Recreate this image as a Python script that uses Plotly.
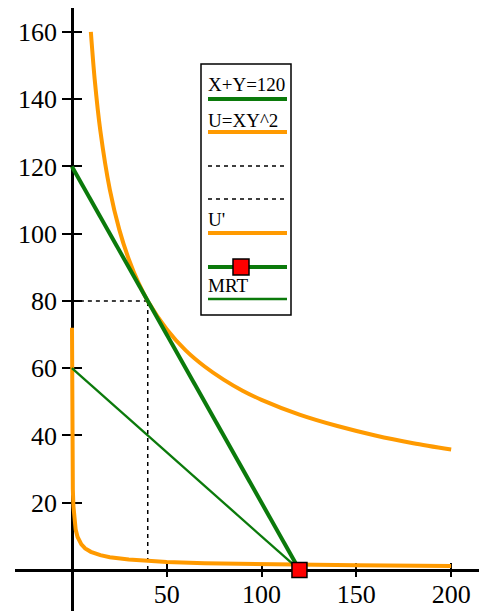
import plotly.graph_objects as go

# ---------------- data ----------------
budget_x = [0, 120]
budget_y = [120, 0]

mrt_x = [0, 120]
mrt_y = [60, 0]

u_x = [10, 12, 15, 20, 25, 30, 35, 40, 50, 60, 70, 80, 90, 100, 120, 140, 160, 180, 200]
u_y = [160, 146, 130.6, 113.1, 101.2, 92.4, 85.5, 80, 71.6, 65.3, 60.5, 56.6, 53.3, 50.6, 46.2, 42.8, 40, 37.7, 35.8]

u2_x = [0.056, 0.1, 0.2, 0.3, 0.5, 0.8, 1, 1.5, 2, 3, 4, 5, 7, 10, 15, 20, 30, 40, 50, 70, 100, 150, 200]
u2_y = [72, 53.9, 38.1, 31.1, 24, 19, 17, 13.9, 12, 9.8, 8.5, 7.6, 6.4, 5.4, 4.4, 3.8, 3.1, 2.7, 2.4, 2.0, 1.7, 1.4, 1.2]

vdash_x = [40, 40]
vdash_y = [0, 80]
hdash_x = [0, 40]
hdash_y = [80, 80]

point_x = [120]
point_y = [0]

x_ticks = [50, 100, 150, 200]
y_ticks = [20, 40, 60, 80, 100, 120, 140, 160]

legend_labels = ["X+Y=120", "U=XY^2", "U'", "MRT"]

# ---------------- style ----------------
OFF = 8                     # browser default body margin
W, H = 487 - OFF, 611 - OFF
ORANGE = "#FF9A00"
GREEN = "#0B7A0B"
FONT = "Liberation Serif"
XR = [-30, 218.9]
YR = [-12.2, 167.1]


def px(x):
    return (x - OFF) / W


def py(y):
    return 1 - (y - OFF) / H


fig = go.Figure()

fig.add_trace(go.Scatter(x=vdash_x, y=vdash_y, mode="lines",
                         line=dict(color="black", width=1.5, dash="4px,4px"), showlegend=False))
fig.add_trace(go.Scatter(x=hdash_x, y=hdash_y, mode="lines",
                         line=dict(color="black", width=1.5, dash="4px,4px"), showlegend=False))
fig.add_trace(go.Scatter(x=u2_x, y=u2_y, mode="lines", line=dict(color=ORANGE, width=4),
                         showlegend=False))
fig.add_trace(go.Scatter(x=u_x, y=u_y, mode="lines",
                         line=dict(color=ORANGE, width=4, shape="spline", smoothing=0.8),
                         showlegend=False))
fig.add_trace(go.Scatter(x=mrt_x, y=mrt_y, mode="lines", line=dict(color=GREEN, width=2.3),
                         showlegend=False))
fig.add_trace(go.Scatter(x=budget_x, y=budget_y, mode="lines", line=dict(color=GREEN, width=4),
                         showlegend=False))
fig.add_trace(go.Scatter(x=point_x, y=point_y, mode="markers",
                         marker=dict(symbol="square", size=15, color="#FF0000",
                                     line=dict(color="black", width=1.5)),
                         showlegend=False))
# dummy trace for the overlay axes (other half of crossing ticks)
fig.add_trace(go.Scatter(x=[None], y=[None], xaxis="x2", yaxis="y2", showlegend=False,
                         hoverinfo="skip"))

x_dom = [px(15), 1]
y_dom = [0, 1]
x_pos = py(570)
y_pos = px(72)

axis_common = dict(showgrid=False, zeroline=False, tickcolor="black", tickwidth=1.5,
                   linecolor="black", linewidth=2.5, layer="below traces",
                   tickfont=dict(family=FONT, size=26, color="black"))

fig.update_layout(
    width=W, height=H,
    margin=dict(l=0, r=0, t=0, b=0),
    paper_bgcolor="white", plot_bgcolor="white",
    xaxis=dict(domain=x_dom, range=XR, anchor="free", position=x_pos,
               tickvals=x_ticks, ticks="inside", ticklen=6, showline=True,
               automargin=False, **axis_common),
    yaxis=dict(domain=y_dom, range=YR, anchor="free", position=y_pos,
               tickvals=y_ticks, ticks="outside", ticklen=9, showline=True,
               automargin=False, **axis_common),
    xaxis2=dict(overlaying="x", range=XR, anchor="free", position=x_pos,
                tickvals=x_ticks, ticks="outside", ticklen=6, showline=False,
                showticklabels=False, showgrid=False, zeroline=False,
                tickcolor="black", tickwidth=1.5, layer="below traces"),
    yaxis2=dict(overlaying="y", range=YR, anchor="free", position=y_pos,
                tickvals=y_ticks, ticks="inside", ticklen=9, showline=False,
                showticklabels=False, showgrid=False, zeroline=False,
                tickcolor="black", tickwidth=1.5, layer="below traces"),
)

# ---------------- manual legend ----------------
shapes = []
annotations = []
shapes.append(dict(type="rect", xref="paper", yref="paper",
                   x0=px(201), x1=px(291), y0=py(64), y1=py(315),
                   line=dict(color="black", width=1.5), fillcolor="white", layer="above"))


def hline(y, color, width, dash="solid"):
    shapes.append(dict(type="line", xref="paper", yref="paper",
                       x0=px(208), x1=px(287), y0=py(y), y1=py(y),
                       line=dict(color=color, width=width, dash=dash), layer="above"))


def label(text, y):
    annotations.append(dict(text=text, xref="paper", yref="paper", x=px(206), y=py(y),
                            xanchor="left", yanchor="middle", showarrow=False,
                            font=dict(family=FONT, size=19, color="black")))


label(legend_labels[0], 85)
hline(99, GREEN, 4)
label(legend_labels[1], 120)
hline(132, ORANGE, 4)
hline(166, "black", 1.5, "4px,4px")
hline(199, "black", 1.5, "4px,4px")
label(legend_labels[2], 220)
hline(233, ORANGE, 4)
hline(267, GREEN, 4)
shapes.append(dict(type="rect", xref="paper", yref="paper",
                   x0=px(233), x1=px(249), y0=py(259), y1=py(275),
                   line=dict(color="black", width=1.5), fillcolor="#FF0000", layer="above"))
label(legend_labels[3], 285)
hline(299, GREEN, 2.3)

fig.update_layout(shapes=shapes, annotations=annotations)

fig.write_html("out.html")
